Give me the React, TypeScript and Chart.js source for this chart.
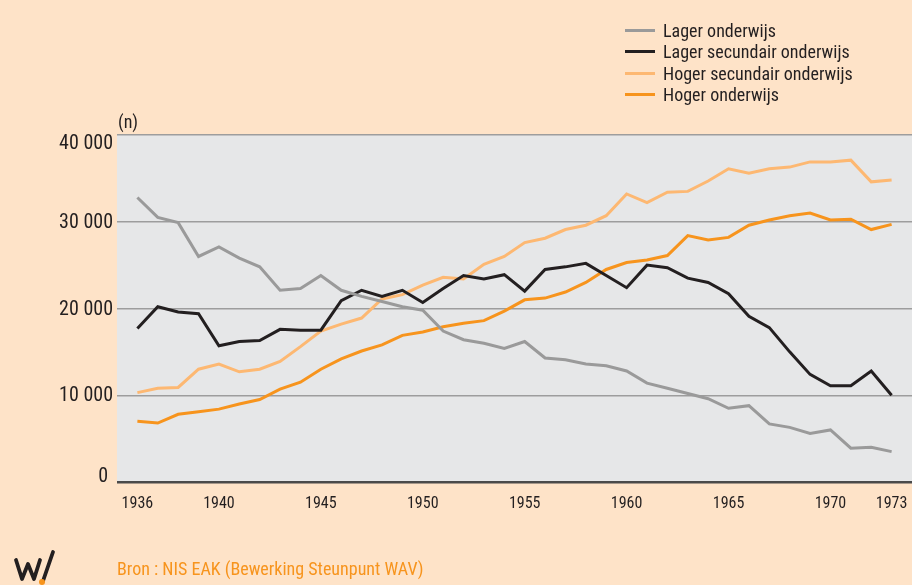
import React, { useEffect, useRef } from "react";
import { Chart, registerables } from "chart.js";

Chart.register(...registerables);

const years = [1936, 1937, 1938, 1939, 1940, 1941, 1942, 1943, 1944, 1945, 1946, 1947, 1948, 1949, 1950, 1951, 1952, 1953, 1954, 1955, 1956, 1957, 1958, 1959, 1960, 1961, 1962, 1963, 1964, 1965, 1966, 1967, 1968, 1969, 1970, 1971, 1972, 1973];

const lagerOnderwijs = [32800, 30500, 29900, 26000, 27100, 25800, 24800, 22100, 22300, 23800, 22100, 21400, 20800, 20200, 19800, 17400, 16400, 16000, 15400, 16200, 14300, 14100, 13600, 13400, 12800, 11400, 10800, 10200, 9600, 8500, 8800, 6700, 6300, 5600, 6000, 3900, 4000, 3500];
const lagerSecundair = [17700, 20200, 19600, 19400, 15700, 16200, 16300, 17600, 17500, 17500, 20900, 22100, 21400, 22100, 20700, 22300, 23800, 23400, 23900, 22000, 24500, 24800, 25200, 23800, 22400, 25000, 24700, 23500, 23000, 21700, 19100, 17800, 15000, 12400, 11100, 11100, 12800, 10000];
const hogerSecundair = [10300, 10800, 10900, 13000, 13600, 12700, 13000, 13900, 15600, 17400, 18200, 18900, 21100, 21600, 22700, 23600, 23400, 25100, 26000, 27600, 28100, 29100, 29600, 30700, 33200, 32200, 33400, 33500, 34700, 36100, 35600, 36100, 36300, 36900, 36900, 37100, 34600, 34800];
const hogerOnderwijs = [7000, 6800, 7800, 8100, 8400, 9000, 9500, 10700, 11500, 13000, 14200, 15100, 15800, 16900, 17300, 17900, 18300, 18600, 19700, 21000, 21200, 21900, 23000, 24500, 25300, 25600, 26100, 28400, 27900, 28200, 29600, 30200, 30700, 31000, 30200, 30300, 29100, 29700];

const xTickYears = [1936, 1940, 1945, 1950, 1955, 1960, 1965, 1970, 1973];
const yTicks = [0, 10000, 20000, 30000, 40000];

const seriesNames = ["Lager onderwijs", "Lager secundair onderwijs", "Hoger secundair onderwijs", "Hoger onderwijs"];
const seriesColors = ["#9a9a9a", "#231f20", "#fdb872", "#f7941d"];
const seriesValues = [lagerOnderwijs, lagerSecundair, hogerSecundair, hogerOnderwijs];

const FONT = "'Liberation Sans Narrow', 'Arial Narrow', 'Roboto Condensed', 'Liberation Sans', Arial, sans-serif";
const BG = "#fee3c8";

const fmt = (v: number) => (v === 0 ? "0" : String(v).replace(/\B(?=(\d{3})+(?!\d))/g, " "));

const plotBg = {
  id: "plotBg",
  beforeDraw(chart: any) {
    const { ctx, chartArea } = chart;
    ctx.save();
    ctx.fillStyle = "#e6e7e8";
    ctx.fillRect(chartArea.left, chartArea.top, chartArea.right - chartArea.left, chartArea.bottom - chartArea.top);
    ctx.restore();
  },
};

// y tick labels drawn through the y scale, with the top and bottom labels kept inside the range
const yLabels = {
  id: "yLabels",
  afterDraw(chart: any) {
    const { ctx } = chart;
    const scale = chart.scales.y;
    ctx.save();
    ctx.font = `20px ${FONT}`;
    ctx.fillStyle = "#231f20";
    ctx.textAlign = "right";
    yTicks.forEach((v) => {
      const py = scale.getPixelForValue(v);
      if (v === 40000) {
        ctx.textBaseline = "top";
        ctx.fillText(fmt(v), 113, py - 1);
      } else if (v === 0) {
        ctx.textBaseline = "alphabetic";
        ctx.fillText(fmt(v), 108, py);
      } else {
        ctx.textBaseline = "middle";
        ctx.fillText(fmt(v), 113, py + 1);
      }
    });
    ctx.restore();
  },
};

export default function App() {
  const ref = useRef<HTMLCanvasElement | null>(null);

  useEffect(() => {
    document.body.style.margin = "0";
    const canvas = ref.current!;
    const chart = new Chart(canvas, {
      type: "line",
      data: {
        datasets: seriesNames.map((name, i) => ({
          label: name,
          data: years.map((y, j) => ({ x: y, y: seriesValues[i][j] })),
          borderColor: seriesColors[i],
          backgroundColor: seriesColors[i],
          borderWidth: 3,
          pointRadius: 0,
          tension: 0,
          fill: false,
        })),
      },
      options: {
        animation: false,
        responsive: false,
        maintainAspectRatio: false,
        layout: { padding: { top: 135, left: 0, right: 0, bottom: 0 } },
        plugins: { legend: { display: false }, tooltip: { enabled: false } },
        scales: {
          x: {
            type: "linear",
            min: 1935,
            max: 1974,
            afterBuildTicks: (s: any) => {
              s.ticks = xTickYears.map((v) => ({ value: v }));
            },
            afterFit: (s: any) => {
              s.height = 103;
              s.paddingLeft = 0;
              s.paddingRight = 0;
            },
            grid: { display: false, drawTicks: false },
            border: { display: false },
            ticks: {
              autoSkip: false,
              maxRotation: 0,
              padding: 12,
              color: "#231f20",
              font: { family: FONT, size: 16 },
              callback: (v: any) => String(v),
            },
          },
          y: {
            min: 0,
            max: 40000,
            afterBuildTicks: (s: any) => {
              s.ticks = yTicks.map((v) => ({ value: v }));
            },
            afterFit: (s: any) => {
              s.width = 117;
              s.paddingTop = 0;
              s.paddingBottom = 0;
            },
            grid: {
              drawTicks: false,
              color: (c: any) => (c.tick && c.tick.value === 0 ? "#4a4a4a" : "#9d9d9d"),
              lineWidth: (c: any) => (c.tick && c.tick.value === 0 ? 2.5 : 1.5),
            },
            border: { display: false },
            ticks: { display: false },
          },
        },
      },
      plugins: [plotBg, yLabels],
    });
    return () => chart.destroy();
  }, []);

  const textStyle: React.CSSProperties = {
    position: "absolute",
    fontFamily: FONT,
    color: "#231f20",
    whiteSpace: "nowrap",
    lineHeight: "1",
  };

  return (
    <div style={{ position: "fixed", left: 0, top: 0, width: 912, height: 585, background: BG, overflow: "hidden" }}>
      <canvas ref={ref} width={912} height={585} style={{ position: "absolute", left: 0, top: 0, width: 912, height: 585 }} />
      {seriesNames.map((name, i) => (
        <div key={name} style={{ position: "absolute", left: 625, top: 20 + i * 21.3, height: 21, display: "flex", alignItems: "center" }}>
          <div style={{ width: 30, height: 3, background: seriesColors[i], marginRight: 8 }} />
          <span style={{ fontFamily: FONT, fontSize: 18, color: "#231f20", whiteSpace: "nowrap" }}>{name}</span>
        </div>
      ))}
      <div style={{ ...textStyle, left: 118, top: 113, fontSize: 18 }}>(n)</div>
      <div style={{ ...textStyle, left: 117, top: 560, fontSize: 18, color: "#f7941d" }}>Bron : NIS EAK (Bewerking Steunpunt WAV)</div>
      <svg width={45} height={36} viewBox="0 0 45 36" style={{ position: "absolute", left: 13, top: 549 }}>
        <path d="M3 11 L9 30 L15 15 L21 30 L27 11" fill="none" stroke="#231f20" strokeWidth={3.8} strokeLinejoin="round" strokeLinecap="round" />
        <path d="M30 32 L40 3" fill="none" stroke="#231f20" strokeWidth={3.8} strokeLinecap="round" />
        <circle cx={29} cy={33} r={3} fill="#f7941d" />
      </svg>
    </div>
  );
}
